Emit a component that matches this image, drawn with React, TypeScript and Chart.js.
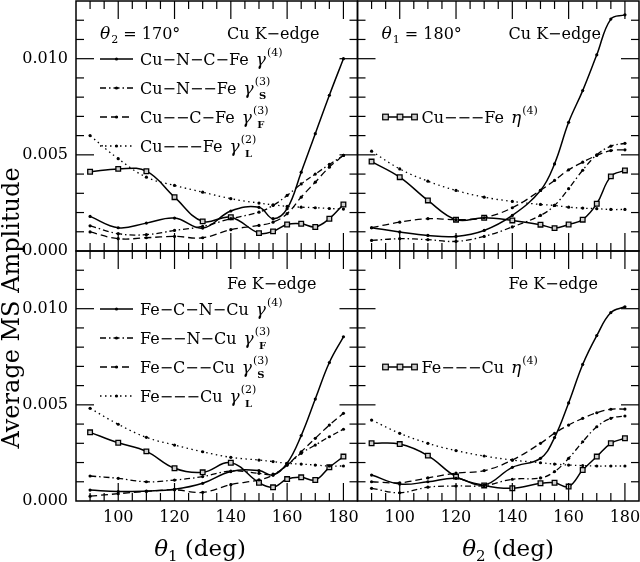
import React, { useEffect, useRef } from 'react';
import { Chart, registerables } from 'chart.js';

Chart.register(...registerables);

const FONT = 'DejaVu Serif';

// Scattering angles (deg) at which the amplitudes were computed
const ANGLES = [90, 100, 110, 120, 130, 140, 150, 155, 160, 165, 170, 175, 180];

// Y tick labels / X tick labels
const Y_TICK_LABELS = ['0.000', '0.005', '0.010'];
const X_TICK_LABELS = ['100', '120', '140', '160', '180'];

// Top-left: Cu K-edge, theta2 = 170 deg, vs theta1
const cuT1_g4 = [0.00180, 0.00121, 0.00145, 0.00171, 0.00119, 0.00208, 0.00227, 0.00168, 0.00220, 0.00410, 0.00610, 0.00810, 0.01000];
const cuT1_gS = [0.00131, 0.00090, 0.00085, 0.00107, 0.00128, 0.00168, 0.00202, 0.00237, 0.00289, 0.00349, 0.00400, 0.00450, 0.00497];
const cuT1_gF = [0.00099, 0.00064, 0.00069, 0.00076, 0.00069, 0.00111, 0.00133, 0.00150, 0.00194, 0.00280, 0.00358, 0.00436, 0.00497];
const cuT1_gL = [0.00600, 0.00480, 0.00384, 0.00341, 0.00306, 0.00272, 0.00249, 0.00240, 0.00232, 0.00228, 0.00225, 0.00221, 0.00218];
const cuT1_eta = [0.00412, 0.00427, 0.00415, 0.00280, 0.00154, 0.00176, 0.00093, 0.00102, 0.00138, 0.00142, 0.00125, 0.00168, 0.00242];

// Top-right: Cu K-edge, theta1 = 180 deg, vs theta2
const cuT2_g4 = [0.00121, 0.00099, 0.00081, 0.00076, 0.00107, 0.00185, 0.00315, 0.00453, 0.00669, 0.00834, 0.01020, 0.01206, 0.01228];
const cuT2_gS = [0.00055, 0.00064, 0.00059, 0.00050, 0.00076, 0.00125, 0.00185, 0.00237, 0.00324, 0.00420, 0.00500, 0.00545, 0.00560];
const cuT2_gF = [0.00121, 0.00150, 0.00168, 0.00163, 0.00173, 0.00225, 0.00315, 0.00367, 0.00422, 0.00462, 0.00497, 0.00522, 0.00526];
const cuT2_gL = [0.00519, 0.00427, 0.00363, 0.00315, 0.00280, 0.00258, 0.00242, 0.00237, 0.00228, 0.00223, 0.00220, 0.00216, 0.00216];
const cuT2_eta = [0.00465, 0.00384, 0.00263, 0.00163, 0.00173, 0.00159, 0.00137, 0.00119, 0.00138, 0.00163, 0.00246, 0.00388, 0.00419];

// Bottom-left: Fe K-edge, vs theta1
const feT1_g4 = [0.00057, 0.00049, 0.00052, 0.00061, 0.00092, 0.00153, 0.00158, 0.00135, 0.00196, 0.00340, 0.00530, 0.00720, 0.00854];
const feT1_gF = [0.00130, 0.00118, 0.00100, 0.00109, 0.00127, 0.00156, 0.00144, 0.00140, 0.00187, 0.00248, 0.00291, 0.00334, 0.00373];
const feT1_gS = [0.00025, 0.00038, 0.00050, 0.00058, 0.00045, 0.00085, 0.00110, 0.00135, 0.00187, 0.00256, 0.00326, 0.00395, 0.00456];
const feT1_gL = [0.00482, 0.00399, 0.00331, 0.00291, 0.00256, 0.00227, 0.00213, 0.00205, 0.00196, 0.00192, 0.00187, 0.00182, 0.00182];
const feT1_eta = [0.00357, 0.00303, 0.00258, 0.00170, 0.00149, 0.00199, 0.00095, 0.00071, 0.00114, 0.00123, 0.00109, 0.00175, 0.00231];

// Bottom-right: Fe K-edge, vs theta2
const feT2_g4 = [0.00135, 0.00088, 0.00100, 0.00118, 0.00083, 0.00175, 0.00222, 0.00330, 0.00510, 0.00710, 0.00860, 0.00980, 0.01010];
const feT2_gF = [0.00066, 0.00043, 0.00072, 0.00078, 0.00080, 0.00113, 0.00120, 0.00153, 0.00222, 0.00308, 0.00386, 0.00430, 0.00442];
const feT2_gS = [0.00100, 0.00095, 0.00120, 0.00145, 0.00158, 0.00213, 0.00300, 0.00352, 0.00395, 0.00430, 0.00459, 0.00477, 0.00478];
const feT2_gL = [0.00421, 0.00352, 0.00300, 0.00262, 0.00234, 0.00213, 0.00199, 0.00192, 0.00187, 0.00184, 0.00182, 0.00182, 0.00182];
const feT2_eta = [0.00300, 0.00296, 0.00236, 0.00127, 0.00081, 0.00066, 0.00092, 0.00095, 0.00075, 0.00161, 0.00231, 0.00300, 0.00326];

type Style = 'solid' | 'dashdot' | 'dashed' | 'dotted' | 'squares';

const DASH: Record<Style, number[]> = {
  solid: [],
  dashdot: [6, 3, 1.5, 3],
  dashed: [7, 4],
  dotted: [1.5, 3.5],
  squares: [],
};

function series(xID: string, yID: string, vals: number[], style: Style) {
  const sq = style === 'squares';
  return {
    data: ANGLES.map((a, i) => ({ x: a, y: vals[i] })),
    xAxisID: xID,
    yAxisID: yID,
    borderColor: '#000',
    borderWidth: style === 'solid' || sq ? 1.5 : 1.3,
    borderDash: DASH[style],
    pointStyle: sq ? 'rect' : 'circle',
    pointRadius: sq ? 3.3 : 1.6,
    pointBackgroundColor: sq ? '#cfcfcf' : '#000',
    pointBorderColor: '#000',
    pointBorderWidth: sq ? 1.3 : 0,
    tension: 0.4,
    fill: false,
  };
}

type LegendRow = { base: string; greek: string; sup: string; sub?: string; style: Style };

const PANELS = [
  {
    x: 'x1', y: 'y1', angle: ['θ', '2', ' = 170°'], edge: 'Cu K−edge',
    legend: [
      { base: 'Cu−N−C−Fe', greek: 'γ', sup: '(4)', style: 'solid' },
      { base: 'Cu−N−−Fe', greek: 'γ', sup: '(3)', sub: 'S', style: 'dashdot' },
      { base: 'Cu−−C−Fe', greek: 'γ', sup: '(3)', sub: 'F', style: 'dashed' },
      { base: 'Cu−−−Fe', greek: 'γ', sup: '(2)', sub: 'L', style: 'dotted' },
    ] as LegendRow[],
  },
  {
    x: 'x2', y: 'y1', angle: ['θ', '1', ' = 180°'], edge: 'Cu K−edge',
    legend: [
      { base: 'Cu−−−Fe', greek: 'η', sup: '(4)', style: 'squares' },
    ] as LegendRow[],
  },
  {
    x: 'x1', y: 'y2', angle: null, edge: 'Fe K−edge',
    legend: [
      { base: 'Fe−C−N−Cu', greek: 'γ', sup: '(4)', style: 'solid' },
      { base: 'Fe−−N−Cu', greek: 'γ', sup: '(3)', sub: 'F', style: 'dashdot' },
      { base: 'Fe−C−−Cu', greek: 'γ', sup: '(3)', sub: 'S', style: 'dashed' },
      { base: 'Fe−−−Cu', greek: 'γ', sup: '(2)', sub: 'L', style: 'dotted' },
    ] as LegendRow[],
  },
  {
    x: 'x2', y: 'y2', angle: null, edge: 'Fe K−edge',
    legend: [
      { base: 'Fe−−−Cu', greek: 'η', sup: '(4)', style: 'squares' },
    ] as LegendRow[],
  },
];

const X_TITLES = [
  { axis: 'x1', sub: '1', center: 200 },
  { axis: 'x2', sub: '2', center: 508 },
];

function line(ctx: CanvasRenderingContext2D, x1: number, y1: number, x2: number, y2: number) {
  ctx.beginPath();
  ctx.moveTo(x1, y1);
  ctx.lineTo(x2, y2);
  ctx.stroke();
}

function drawSquare(ctx: CanvasRenderingContext2D, x: number, y: number, r: number) {
  ctx.save();
  ctx.setLineDash([]);
  ctx.fillStyle = '#cfcfcf';
  ctx.fillRect(x - r, y - r, 2 * r, 2 * r);
  ctx.lineWidth = 1.2;
  ctx.strokeRect(x - r, y - r, 2 * r, 2 * r);
  ctx.restore();
}

const panelPlugin = {
  id: 'panelDecor',
  afterDatasetsDraw(chart: any) {
    const ctx: CanvasRenderingContext2D = chart.ctx;
    ctx.save();
    ctx.strokeStyle = '#000';
    ctx.fillStyle = '#000';

    for (const p of PANELS) {
      const xs = chart.scales[p.x];
      const ys = chart.scales[p.y];
      const L = xs.left, R = xs.right, T = ys.top, B = ys.bottom;

      // frame
      ctx.setLineDash([]);
      ctx.lineWidth = 1.5;
      ctx.strokeRect(L, T, R - L, B - T);

      // inward ticks on all four sides
      ctx.lineWidth = 1.2;
      for (const t of xs.ticks) {
        const v = Math.round(t.value);
        if (v <= xs.min || v >= xs.max) continue;
        const px = xs.getPixelForValue(v);
        const len = v % 20 === 0 ? 18 : 8;
        line(ctx, px, B, px, B - len);
        line(ctx, px, T, px, T + len);
      }
      for (const t of ys.ticks) {
        const k = Math.round(t.value * 1000);
        if (k <= 0 || k >= 13) continue;
        const py = ys.getPixelForValue(t.value);
        const len = k % 5 === 0 ? 18 : 8;
        line(ctx, L, py, L + len, py);
        line(ctx, R, py, R - len, py);
      }

      // annotations
      ctx.textBaseline = 'alphabetic';
      ctx.textAlign = 'left';
      const ay = T + 38;
      if (p.angle) {
        let ax = L + 24;
        ctx.font = `italic 17px ${FONT}`;
        ctx.fillText(p.angle[0], ax, ay);
        ax += ctx.measureText(p.angle[0]).width + 1;
        ctx.font = `11px ${FONT}`;
        ctx.fillText(p.angle[1], ax, ay + 4);
        ax += ctx.measureText(p.angle[1]).width;
        ctx.font = `16px ${FONT}`;
        ctx.fillText(p.angle[2], ax, ay);
      }
      ctx.font = `16px ${FONT}`;
      ctx.fillText(p.edge, L + 151, ay);

      // legend rows
      p.legend.forEach((row, i) => {
        const base = T + (row.style === 'squares' ? 122 : 64 + 29 * i);
        const mid = base - 6;
        ctx.save();
        ctx.lineWidth = row.style === 'solid' || row.style === 'squares' ? 1.5 : 1.3;
        ctx.setLineDash(DASH[row.style]);
        if (row.style === 'squares') {
          line(ctx, L + 28, mid, L + 57, mid);
          drawSquare(ctx, L + 28, mid, 2.8);
          drawSquare(ctx, L + 42.5, mid, 2.8);
          drawSquare(ctx, L + 57, mid, 2.8);
        } else {
          line(ctx, L + 24, mid, L + 57, mid);
          ctx.beginPath();
          ctx.arc(L + 40.5, mid, 1.6, 0, Math.PI * 2);
          ctx.fill();
        }
        ctx.restore();

        let tx = L + 64;
        ctx.font = `16px ${FONT}`;
        ctx.fillText(row.base, tx, base);
        tx += ctx.measureText(row.base + ' ').width + 2;
        ctx.font = `italic 17px ${FONT}`;
        ctx.fillText(row.greek, tx, base);
        tx += ctx.measureText(row.greek).width + 1;
        ctx.font = `11px ${FONT}`;
        ctx.fillText(row.sup, tx, base - 9);
        const supW = ctx.measureText(row.sup).width;
        if (row.sub) {
          ctx.font = `bold 10px ${FONT}`;
          const sw = ctx.measureText(row.sub).width;
          ctx.fillText(row.sub, tx + supW / 2 - sw / 2, base + 5);
        }
      });
    }

    // y-axis title (shared by both rows)
    ctx.save();
    ctx.translate(13, 308);
    ctx.rotate(-Math.PI / 2);
    ctx.textAlign = 'center';
    ctx.textBaseline = 'middle';
    ctx.font = `24px ${FONT}`;
    ctx.fillText('Average MS Amplitude', 0, 0);
    ctx.restore();

    // x-axis titles
    for (const xt of X_TITLES) {
      const parts = [
        { t: 'θ', f: `italic 23px ${FONT}`, dy: 0 },
        { t: xt.sub, f: `15px ${FONT}`, dy: 5 },
        { t: ' (deg)', f: `23px ${FONT}`, dy: 0 },
      ];
      let total = 0;
      for (const pt of parts) {
        ctx.font = pt.f;
        total += ctx.measureText(pt.t).width;
      }
      let x = xt.center - total / 2;
      const y = 556;
      ctx.textAlign = 'left';
      ctx.textBaseline = 'alphabetic';
      for (const pt of parts) {
        ctx.font = pt.f;
        ctx.fillText(pt.t, x, y + pt.dy);
        x += ctx.measureText(pt.t).width;
      }
    }

    ctx.restore();
  },
};

function zeroPadding(s: any) {
  s.paddingTop = 0;
  s.paddingBottom = 0;
  s.paddingLeft = 0;
  s.paddingRight = 0;
}

function xAxis(weight: number) {
  return {
    type: 'linear' as const,
    position: 'bottom' as const,
    stack: 'xcols',
    weight,
    min: 85,
    max: 185,
    grid: { display: false, drawTicks: false },
    border: { display: false },
    ticks: {
      stepSize: 5,
      autoSkip: false,
      maxRotation: 0,
      padding: 7,
      color: '#000',
      font: { family: FONT, size: 16 },
      callback: (v: number) => {
        const s = String(Math.round(v));
        return X_TICK_LABELS.includes(s) ? s : '';
      },
    },
    afterFit: (s: any) => {
      s.height = 61;
      zeroPadding(s);
    },
  };
}

function yAxis(weight: number) {
  return {
    type: 'linear' as const,
    position: 'left' as const,
    stack: 'yrows',
    weight,
    min: 0,
    max: 0.013,
    grid: { display: false, drawTicks: false },
    border: { display: false },
    ticks: {
      stepSize: 0.001,
      autoSkip: false,
      padding: 8,
      color: '#000',
      font: { family: FONT, size: 16 },
      callback: (v: number) => {
        const s = (Math.round(v * 1000) / 1000).toFixed(3);
        return Y_TICK_LABELS.includes(s) ? s : '';
      },
    },
    afterFit: (s: any) => {
      s.width = 76;
      zeroPadding(s);
    },
  };
}

export default function App() {
  const ref = useRef<HTMLCanvasElement | null>(null);

  useEffect(() => {
    if (!ref.current) return;
    const chart = new Chart(ref.current, {
      type: 'line',
      data: {
        datasets: [
          series('x1', 'y1', cuT1_g4, 'solid'),
          series('x1', 'y1', cuT1_gS, 'dashdot'),
          series('x1', 'y1', cuT1_gF, 'dashed'),
          series('x1', 'y1', cuT1_gL, 'dotted'),
          series('x1', 'y1', cuT1_eta, 'squares'),
          series('x2', 'y1', cuT2_g4, 'solid'),
          series('x2', 'y1', cuT2_gS, 'dashdot'),
          series('x2', 'y1', cuT2_gF, 'dashed'),
          series('x2', 'y1', cuT2_gL, 'dotted'),
          series('x2', 'y1', cuT2_eta, 'squares'),
          series('x1', 'y2', feT1_g4, 'solid'),
          series('x1', 'y2', feT1_gF, 'dashdot'),
          series('x1', 'y2', feT1_gS, 'dashed'),
          series('x1', 'y2', feT1_gL, 'dotted'),
          series('x1', 'y2', feT1_eta, 'squares'),
          series('x2', 'y2', feT2_g4, 'solid'),
          series('x2', 'y2', feT2_gF, 'dashdot'),
          series('x2', 'y2', feT2_gS, 'dashed'),
          series('x2', 'y2', feT2_gL, 'dotted'),
          series('x2', 'y2', feT2_eta, 'squares'),
        ] as any,
      },
      options: {
        responsive: false,
        animation: false,
        devicePixelRatio: 1,
        layout: { autoPadding: false, padding: { top: 1, right: 1, left: 0, bottom: 0 } },
        plugins: {
          legend: { display: false },
          tooltip: { enabled: false },
          title: { display: false },
        },
        events: [],
        scales: {
          x1: xAxis(0),
          x2: xAxis(1),
          y1: yAxis(1),
          y2: yAxis(0),
        } as any,
      },
      plugins: [panelPlugin],
    });
    return () => chart.destroy();
  }, []);

  return (
    <div style={{ position: 'absolute', left: 0, top: 0, width: 640, height: 562, background: '#fff' }}>
      <canvas ref={ref} width={640} height={562} style={{ display: 'block' }} />
    </div>
  );
}
